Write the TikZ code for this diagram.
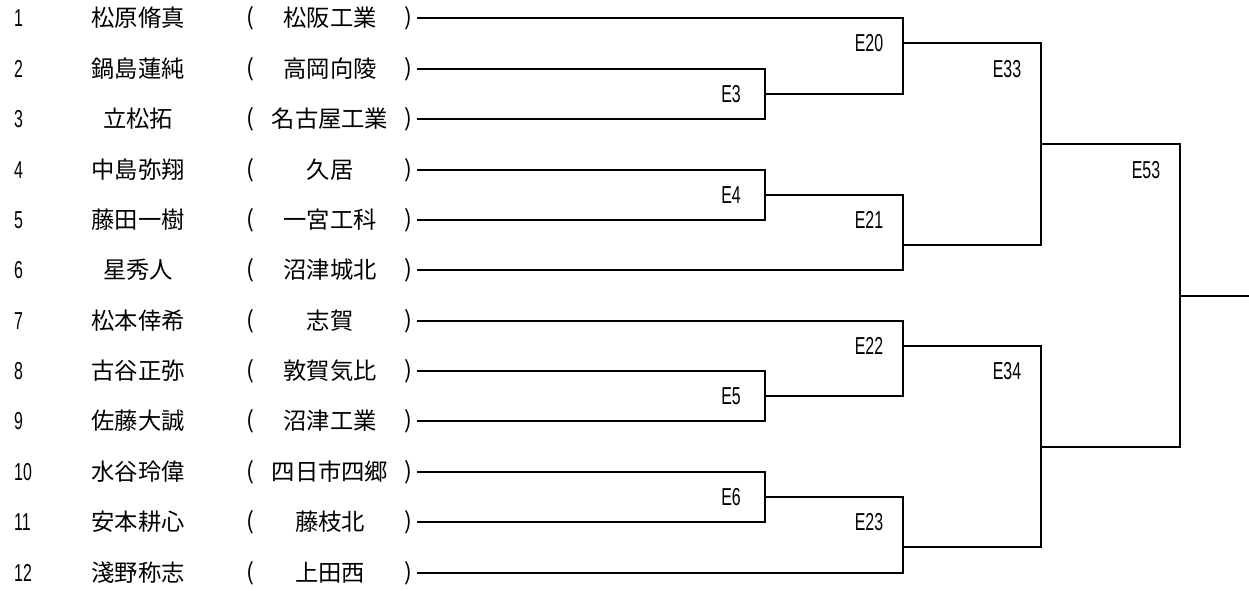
\documentclass[tikz,border=0pt]{standalone}
\usepackage{fontspec}
\newfontfamily\jp{Noto Sans CJK JP}
\newfontfamily\nar[FakeStretch=0.65]{Liberation Sans}
\begin{document}
\begin{tikzpicture}[x=1pt,y=-1pt,
  txt/.style={inner sep=0pt,font=\jp\fontsize{23.3}{28}\selectfont},
  num/.style={inner sep=0pt,anchor=west,font=\nar\fontsize{24.5}{28}\selectfont},
  lab/.style={inner sep=0pt,font=\nar\fontsize{24.5}{28}\selectfont},
  wire/.style={line width=2pt,black}]
\useasboundingbox[fill=white] (0,0) rectangle (1249,590);
\foreach \k/\yy/\nm/\sc in {1/18/松原脩真/松阪工業,2/69/鍋島蓮純/高岡向陵,3/119/立松拓/名古屋工業,
  4/170/中島弥翔/久居,5/220/藤田一樹/一宮工科,6/270/星秀人/沼津城北,7/321/松本倖希/志賀,
  8/371/古谷正弥/敦賀気比,9/421/佐藤大誠/沼津工業,10/472/水谷玲偉/四日市四郷,
  11/522/安本耕心/藤枝北,12/573/淺野称志/上田西}{
  \node[num] (n\k) at (14,\yy) {\k};
  \node[txt] (m\k) at (138,\yy) {\nm};
  \node[txt] (o\k) at (250,\yy) {(};
  \node[txt] (t\k) at (330,\yy) {\sc};
  \node[txt] (c\k) at (408.5,\yy) {)};
  \coordinate (s\k) at (417,\yy);
}
% match points
\coordinate (E3) at (765,94);
\coordinate (E4) at (765,195);
\coordinate (E5) at (765,396);
\coordinate (E6) at (765,497);
\coordinate (E20) at (903,43);
\coordinate (E21) at (903,245);
\coordinate (E22) at (903,346);
\coordinate (E23) at (903,547);
\coordinate (E33) at (1041,144);
\coordinate (E34) at (1041,447);
\coordinate (E53) at (1180,296);
\coordinate (fin) at (1249,296);
% brackets
\draw[wire] (s2) -| (E3) |- (s3);
\draw[wire] (s4) -| (E4) |- (s5);
\draw[wire] (s8) -| (E5) |- (s9);
\draw[wire] (s10) -| (E6) |- (s11);
\draw[wire] (s1) -| (E20) |- (E3);
\draw[wire] (E4) -| (E21) |- (s6);
\draw[wire] (s7) -| (E22) |- (E5);
\draw[wire] (E6) -| (E23) |- (s12);
\draw[wire] (E20) -| (E33) |- (E21);
\draw[wire] (E22) -| (E34) |- (E23);
\draw[wire] (E33) -| (E53) |- (E34);
\draw[wire] (E53) -- (fin);
% labels
\node[lab] (lE3) at (731,94) {E3};
\node[lab] (lE4) at (731,195) {E4};
\node[lab] (lE5) at (731,396) {E5};
\node[lab] (lE6) at (731,497) {E6};
\node[lab] (lE20) at (869,43.5) {E20};
\node[lab] (lE21) at (869,220) {E21};
\node[lab] (lE22) at (869,346) {E22};
\node[lab] (lE23) at (869,522) {E23};
\node[lab] (lE33) at (1007,69) {E33};
\node[lab] (lE34) at (1007,371) {E34};
\node[lab] (lE53) at (1146,170) {E53};
\end{tikzpicture}
\end{document}
